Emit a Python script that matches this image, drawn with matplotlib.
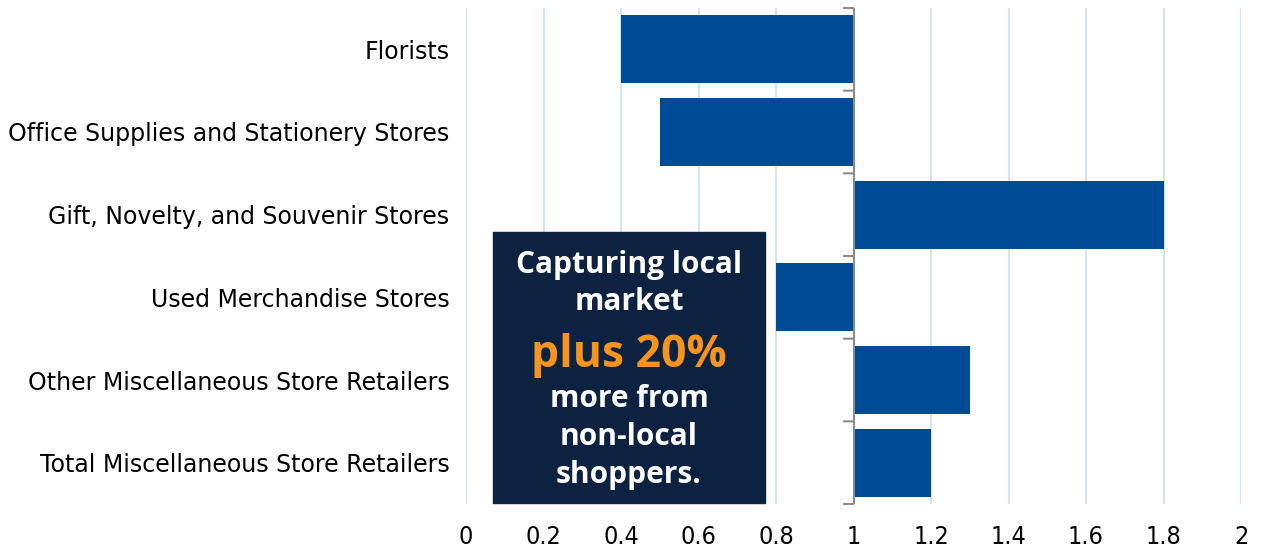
import matplotlib
matplotlib.use("Agg")
import matplotlib.pyplot as plt
import numpy as np

categories = ["Florists", "Office Supplies and Stationery Stores", "Gift, Novelty, and Souvenir Stores",
              "Used Merchandise Stores", "Other Miscellaneous Store Retailers", "Total Miscellaneous Store Retailers"]
values = [0.4, 0.5, 1.8, 0.8, 1.3, 1.2]
baseline = 1.0
xticks = [0, 0.2, 0.4, 0.6, 0.8, 1, 1.2, 1.4, 1.6, 1.8, 2]
xticklabels = ["0", "0.2", "0.4", "0.6", "0.8", "1", "1.2", "1.4", "1.6", "1.8", "2"]

bar_color = "#004B96"
grid_color = "#D2E5F3"
axis_gray = "#8C8C8C"
box_color = "#0D2241"
orange = "#F7941D"

fig = plt.figure(figsize=(12.61, 5.51), dpi=100)
ax = fig.add_axes([466/1261, 1-504/551, (1241-466)/1261, (504-8)/551])

y = np.arange(len(categories))
ax.barh(y, [v - baseline for v in values], left=baseline, height=0.82, color=bar_color, zorder=3)
ax.set_ylim(len(categories) - 0.5, -0.5)
ax.set_xlim(0, 2)

ax.set_xticks(xticks)
ax.set_xticklabels(xticklabels, fontsize=18, fontstretch="condensed")
ax.set_yticks(y)
ax.set_yticklabels(categories, fontsize=17)
ax.tick_params(axis="y", length=0, pad=12)
ax.tick_params(axis="x", length=0, pad=15)
for s in ax.spines.values():
    s.set_visible(False)

ax.grid(axis="x", color=grid_color, linewidth=1.5, zorder=0)
ax.set_axisbelow(True)

# vertical axis line at baseline with boundary ticks pointing left
ax.axvline(baseline, color=axis_gray, linewidth=1.5, zorder=4)
for b in np.arange(len(categories) + 1) - 0.5:
    ax.annotate("", xy=(baseline, b), xycoords="data", xytext=(-7, 0), textcoords="offset points",
                arrowprops=dict(arrowstyle="-", color=axis_gray, linewidth=1.5, shrinkA=0, shrinkB=0),
                annotation_clip=False, zorder=4)

# annotation box
bx0, bx1, by0, by1 = 493, 765, 232, 503
fig.patches.append(plt.Rectangle((bx0/1261, 1-by1/551), (bx1-bx0)/1261, (by1-by0)/551,
                                 transform=fig.transFigure, color=box_color, zorder=5))
cx = 629/1261
lines = [("Capturing local", 265, "white", 21.5), ("market", 302, "white", 21.5),
         ("plus 20%", 355, orange, 32), ("more from", 399, "white", 21.5),
         ("non-local", 437, "white", 21.5), ("shoppers.", 475, "white", 21.5)]
for txt, py, col, fs in lines:
    fig.text(cx, 1-py/551, txt, color=col, fontsize=fs, fontweight="bold",
             ha="center", va="center", zorder=6, family="Open Sans")

fig.savefig("out.png", dpi=100)
